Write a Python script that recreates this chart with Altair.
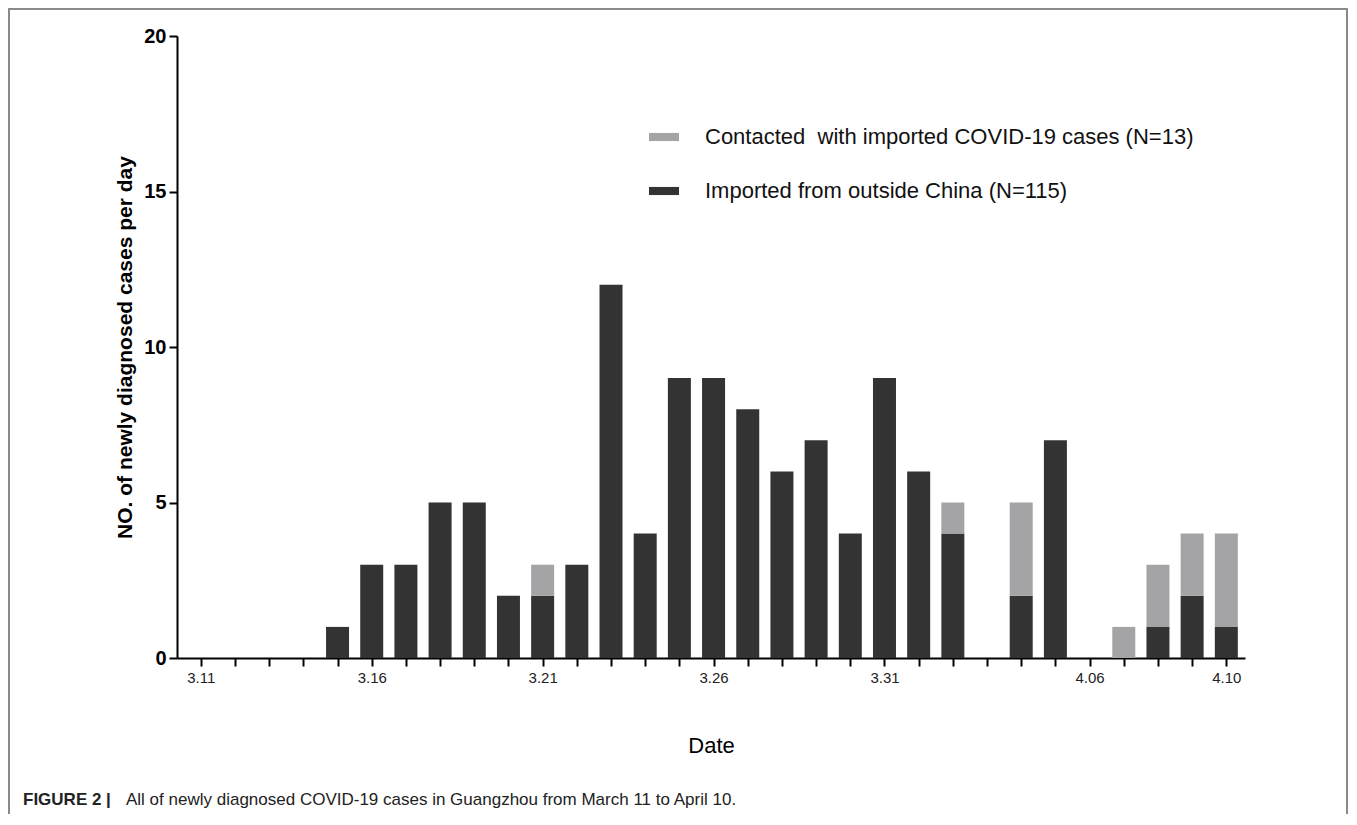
import altair as alt
import pandas as pd

# ---- data ----
dates = ["3.11", "3.12", "3.13", "3.14", "3.15", "3.16", "3.17", "3.18", "3.19", "3.20",
         "3.21", "3.22", "3.23", "3.24", "3.25", "3.26", "3.27", "3.28", "3.29", "3.30",
         "3.31", "4.01", "4.02", "4.03", "4.04", "4.05", "4.06", "4.07", "4.08", "4.09", "4.10"]
imported = [0, 0, 0, 0, 1, 3, 3, 5, 5, 2,
            2, 3, 12, 4, 9, 9, 8, 6, 7, 4,
            9, 6, 4, 0, 2, 7, 0, 0, 1, 2, 1]
contacted = [0, 0, 0, 0, 0, 0, 0, 0, 0, 0,
             1, 0, 0, 0, 0, 0, 0, 0, 0, 0,
             0, 0, 1, 0, 3, 0, 0, 1, 2, 2, 3]
series_names = ["Contacted\u00a0 with imported COVID-19 cases (N=13)",
                "Imported from outside China (N=115)"]
series_colors = ["#a4a4a7", "#333333"]
labelled_dates = ["3.11", "3.16", "3.21", "3.26", "3.31", "4.06", "4.10"]
y_ticks = [0, 5, 10, 15, 20]

rows = []
for i, d in enumerate(dates):
    rows.append({"idx": i, "date": d, "series": series_names[1], "n": imported[i], "ord": 0})
    rows.append({"idx": i, "date": d, "series": series_names[0], "n": contacted[i], "ord": 1})
df = pd.DataFrame(rows)

label_map = "{" + ",".join(f"'{i}':'{d}'" for i, d in enumerate(dates) if d in labelled_dates) + "}"
label_expr = f"({label_map})[''+datum.value] || ''"

FONT = "Liberation Sans"
W, H = 1068, 622

bars = alt.Chart(df).mark_bar(size=23).encode(
    x=alt.X("idx:Q",
            scale=alt.Scale(domain=[-0.55, 30.4], nice=False, zero=False),
            axis=alt.Axis(values=list(range(len(dates))), labelExpr=label_expr,
                          title="Date", titleFontSize=22, titleFontWeight="normal",
                          titlePadding=50, labelFontSize=15, labelPadding=4,
                          labelFlush=False, labelOverlap=False,
                          domainColor="black", domainWidth=2, tickColor="black",
                          tickWidth=2, tickSize=8, grid=False,
                          labelColor="#222", titleColor="black")),
    y=alt.Y("n:Q", stack="zero",
            scale=alt.Scale(domain=[0, 20], nice=False),
            axis=alt.Axis(values=y_ticks, title="NO. of newly diagnosed cases per day",
                          titleFontSize=21, titleFontWeight="bold", titlePadding=8,
                          labelFontSize=20, labelFontWeight="bold", labelPadding=3,
                          domainColor="black", domainWidth=2, tickColor="black",
                          tickWidth=2, tickSize=8, grid=False,
                          labelColor="black", titleColor="black")),
    color=alt.Color("series:N",
                    scale=alt.Scale(domain=series_names, range=series_colors),
                    legend=alt.Legend(orient="none", legendX=472, legendY=86, title=None,
                                      symbolType="M-1,-0.27H1V0.27H-1Z", symbolSize=900,
                                      symbolStrokeWidth=0, labelFontSize=22,
                                      labelOffset=26, rowPadding=28, labelLimit=700,
                                      labelColor="#111")),
    order=alt.Order("ord:Q"),
)

one = pd.DataFrame({"a": [0]})
caption_bold = alt.Chart(one).mark_text(
    text="FIGURE 2 |", font=FONT, fontSize=17, fontWeight="bold", align="left",
    baseline="middle", color="#222").encode(x=alt.value(-154), y=alt.value(764))
caption_rest = alt.Chart(one).mark_text(
    text="All of newly diagnosed COVID-19 cases in Guangzhou from March 11 to April 10.",
    font=FONT, fontSize=17, align="left", baseline="middle",
    color="#222").encode(x=alt.value(-51), y=alt.value(764))

frame = alt.Chart(one).mark_rect(filled=False, stroke="#8a8a8a", strokeWidth=2).encode(
    x=alt.value(-168), x2=alt.value(1170), y=alt.value(-27), y2=alt.value(H + 170))

chart = alt.layer(bars, caption_bold, caption_rest, frame).properties(
    width=W, height=H,
    padding={"left": 169, "top": 28, "right": 104, "bottom": 156},
    autosize=alt.AutoSizeParams(type="none"),
).configure(font=FONT).configure_view(stroke=None)

chart.save("out.html", embed_options={"renderer": "svg", "actions": False})
